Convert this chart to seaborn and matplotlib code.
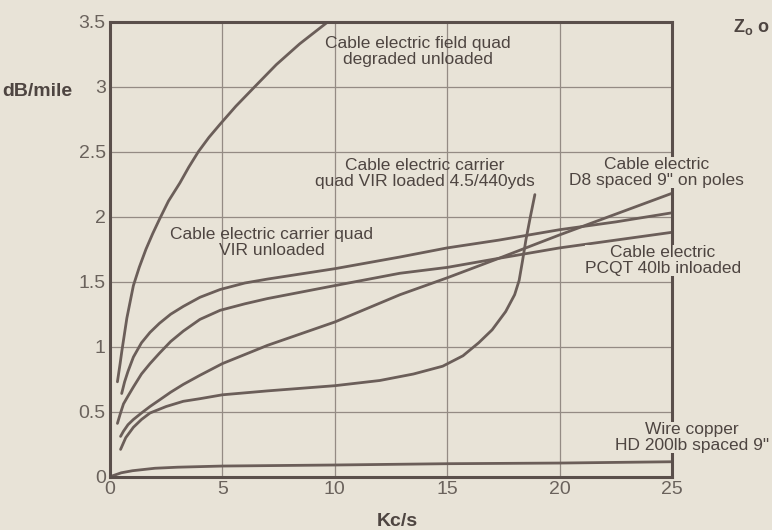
import matplotlib
matplotlib.use("Agg")
import matplotlib.pyplot as plt
import seaborn as sns
import pandas as pd

# ---------------- data ----------------
x_ticks = [0, 5, 10, 15, 20, 25]
x_tick_labels = ["0", "5", "10", "15", "20", "25"]
y_ticks = [0, 0.5, 1, 1.5, 2, 2.5, 3, 3.5]
y_tick_labels = ["0", "0.5", "1", "1.5", "2", "2.5", "3", "3.5"]

# Cable electric field quad degraded unloaded
field_x = [0.33, 0.45, 0.53, 0.75, 1.04, 1.3, 1.6, 1.9, 2.2, 2.6, 3.11, 3.5, 3.93,
           4.4, 4.89, 5.6, 6.44, 7.4, 8.44, 9.7]
field_y = [0.73, 0.87, 0.97, 1.22, 1.47, 1.61, 1.75, 1.87, 1.98, 2.12, 2.26, 2.38, 2.50,
           2.61, 2.71, 2.85, 3.00, 3.17, 3.33, 3.50]

# Cable electric carrier quad VIR unloaded (top of cluster)
vir_x = [0.52, 0.65, 0.8, 1.04, 1.4, 1.78, 2.2, 2.7, 3.26, 4.0, 4.9, 6, 7, 8.5,
         10, 12.9, 15, 17.3, 20, 22.5, 25]
vir_y = [0.64, 0.73, 0.81, 0.92, 1.03, 1.11, 1.18, 1.25, 1.31, 1.38, 1.44, 1.49, 1.52, 1.56,
         1.60, 1.69, 1.76, 1.82, 1.90, 1.96, 2.03]

# Cable electric PCQT 40lb unloaded
pcqt_x = [0.33, 0.45, 0.6, 0.8, 1.04, 1.4, 1.78, 2.2, 2.7, 3.26, 4.0, 4.9, 6, 7, 8.5,
          10, 12.9, 15, 17.3, 20, 22.5, 25]
pcqt_y = [0.41, 0.48, 0.56, 0.62, 0.69, 0.79, 0.87, 0.95, 1.04, 1.12, 1.21, 1.28, 1.33, 1.37, 1.42,
          1.47, 1.565, 1.61, 1.68, 1.76, 1.82, 1.88]

# Cable electric D8 spaced 9" on poles
d8_x = [0.47, 0.6, 0.8, 1.04, 1.4, 1.78, 2.2, 2.7, 3.26, 4.0, 5.0, 6, 7, 8.5,
        10, 12.9, 15, 17.3, 20, 22.5, 25]
d8_y = [0.31, 0.35, 0.40, 0.44, 0.49, 0.54, 0.59, 0.65, 0.71, 0.78, 0.87, 0.94, 1.01, 1.10,
        1.19, 1.40, 1.53, 1.68, 1.86, 2.02, 2.18]

# Cable electric carrier quad VIR loaded 4.5/440yds
loaded_x = [0.47, 0.7, 1.04, 1.4, 1.78, 2.5, 3.26, 4.0, 5.0, 7, 10, 12, 13.5, 14.8,
            15.7, 16.4, 17.0, 17.6, 18.0, 18.2, 18.35, 18.5, 18.7, 18.9]
loaded_y = [0.21, 0.30, 0.38, 0.44, 0.49, 0.54, 0.58, 0.60, 0.63, 0.66, 0.70, 0.74, 0.79, 0.85,
            0.93, 1.03, 1.13, 1.27, 1.40, 1.51, 1.66, 1.82, 2.00, 2.17]

# Wire copper HD 200lb spaced 9"
wire_x = [0, 0.5, 1, 2, 3, 5, 10, 15, 20, 25]
wire_y = [0, 0.03, 0.046, 0.065, 0.073, 0.082, 0.09, 0.10, 0.105, 0.115]

labels = [
    ("Cable electric field quad\ndegraded unloaded", 13.7, 3.27),
    ("Cable electric carrier\nquad VIR loaded 4.5/440yds", 14.0, 2.33),
    ("Cable electric carrier quad\nVIR unloaded", 7.2, 1.80),
]
right_labels = [
    ("Cable electric\nD8 spaced 9\" on poles", 24.3, 2.34),
    ("Cable electric\nPCQT 40lb inloaded", 24.6, 1.665),
    ("Wire copper\nHD 200lb spaced 9\"", 25.9, 0.30),
]

# ---------------- style ----------------
BG = "#e8e3d7"
LINE = "#6b5e59"
SPINE = "#5a4f4b"
GRID = "#948b84"
TXT = "#4e4541"
TICK = "#6a625c"

sns.set_theme(style="white")
plt.rcParams['font.family'] = ['Liberation Sans', 'DejaVu Sans']

fig = plt.figure(figsize=(7.72, 5.30), dpi=100)
fig.patch.set_facecolor(BG)
ax = fig.add_axes([110 / 772, 53.3 / 530, 562 / 772, 455 / 530])
ax.set_facecolor(BG)

series = [(field_x, field_y), (vir_x, vir_y), (pcqt_x, pcqt_y),
          (d8_x, d8_y), (loaded_x, loaded_y), (wire_x, wire_y)]
for xs, ys in series:
    df = pd.DataFrame({"x": xs, "y": ys})
    sns.lineplot(data=df, x="x", y="y", ax=ax, color=LINE, linewidth=2.0,
                 sort=False, estimator=None, zorder=2)

ax.set_xlim(0, 25)
ax.set_ylim(0, 3.5)
ax.set_xticks(x_ticks)
ax.set_xticklabels(x_tick_labels)
ax.set_yticks(y_ticks)
ax.set_yticklabels(y_tick_labels)
ax.tick_params(axis="both", length=0, pad=3, labelsize=14, labelcolor=TICK)
ax.grid(True, color=GRID, linewidth=0.9)
ax.set_axisbelow(True)
ax.set_xlabel("")
ax.set_ylabel("")
for s in ax.spines.values():
    s.set_visible(True)
    s.set_color(SPINE)
    s.set_linewidth(2.2)

for txt, x, y in labels:
    ax.text(x, y, txt, ha="center", va="center", fontsize=12.5, color=TXT,
            linespacing=1.1, zorder=4)
for txt, x, y in right_labels:
    ax.text(x, y, txt, ha="center", va="center", fontsize=12.5, color=TXT,
            linespacing=1.05, zorder=4, clip_on=False,
            bbox=dict(facecolor=BG, edgecolor="none", pad=0.3))

fig.text(72 / 772, 1 - 92 / 530, "dB/mile", ha="right", va="center",
         fontsize=14, fontweight="bold", color=TXT)
fig.text(397 / 772, 1 - 522 / 530, "Kc/s", ha="center", va="center",
         fontsize=14, fontweight="bold", color=TXT)
fig.text(770 / 772, 1 - 27 / 530, "Z$_\\mathregular{o}$ o", ha="right", va="center",
         fontsize=13, fontweight="bold", color=TXT)

fig.savefig("out.png", dpi=100, facecolor=BG)
